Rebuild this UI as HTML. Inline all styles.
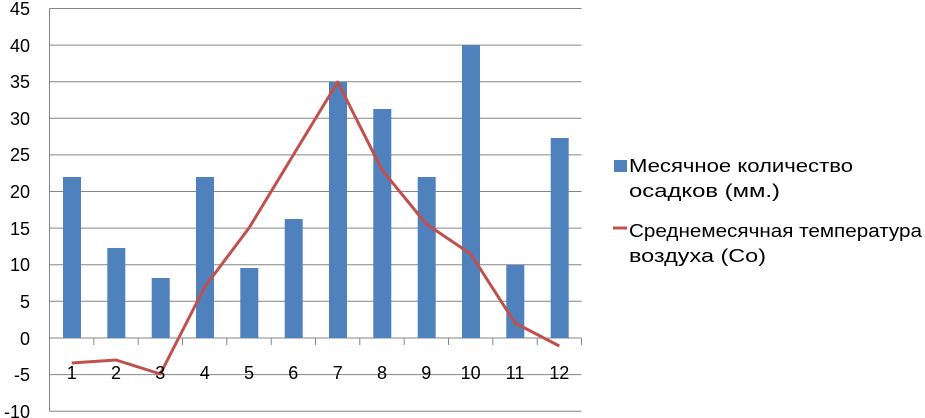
<!DOCTYPE html>
<html><head><meta charset="utf-8"><style>body{margin:0;background:#fff}svg{display:block}text{font-family:"Liberation Sans",sans-serif;font-size:18px;fill:#000}</style></head><body>
<svg width="925" height="418" xmlns="http://www.w3.org/2000/svg">
<g stroke="#868686" stroke-width="1">
<line x1="49.5" y1="8.5" x2="581.5" y2="8.5"/><line x1="49.5" y1="45.1" x2="581.5" y2="45.1"/><line x1="49.5" y1="81.7" x2="581.5" y2="81.7"/><line x1="49.5" y1="118.3" x2="581.5" y2="118.3"/><line x1="49.5" y1="154.9" x2="581.5" y2="154.9"/><line x1="49.5" y1="191.5" x2="581.5" y2="191.5"/><line x1="49.5" y1="228.1" x2="581.5" y2="228.1"/><line x1="49.5" y1="264.7" x2="581.5" y2="264.7"/><line x1="49.5" y1="301.3" x2="581.5" y2="301.3"/><line x1="49.5" y1="338" x2="581.5" y2="338"/><line x1="49.5" y1="374.6" x2="581.5" y2="374.6"/><line x1="49.5" y1="411.2" x2="581.5" y2="411.2"/>
<line x1="49.5" y1="8.5" x2="49.5" y2="411.2"/>
<line x1="93.8" y1="338" x2="93.8" y2="345"/><line x1="138.2" y1="338" x2="138.2" y2="345"/><line x1="182.5" y1="338" x2="182.5" y2="345"/><line x1="226.8" y1="338" x2="226.8" y2="345"/><line x1="271.2" y1="338" x2="271.2" y2="345"/><line x1="315.5" y1="338" x2="315.5" y2="345"/><line x1="359.8" y1="338" x2="359.8" y2="345"/><line x1="404.2" y1="338" x2="404.2" y2="345"/><line x1="448.5" y1="338" x2="448.5" y2="345"/><line x1="492.8" y1="338" x2="492.8" y2="345"/><line x1="537.2" y1="338" x2="537.2" y2="345"/><line x1="581.5" y1="338" x2="581.5" y2="345"/>
</g>
<g fill="#4F81BD">
<rect x="63" y="177" width="18" height="161"/>
<rect x="107.3" y="248" width="18" height="90"/>
<rect x="151.7" y="278" width="18" height="60"/>
<rect x="196" y="177" width="18" height="161"/>
<rect x="240.3" y="268" width="18" height="70"/>
<rect x="284.7" y="219" width="18" height="119"/>
<rect x="329" y="81.7" width="18" height="256.3"/>
<rect x="373.3" y="109" width="18" height="229"/>
<rect x="417.7" y="177" width="18" height="161"/>
<rect x="462" y="45.1" width="18" height="292.9"/>
<rect x="506.3" y="265" width="18" height="73"/>
<rect x="550.7" y="138" width="18" height="200"/>
</g>
<polyline fill="none" stroke="#C0504D" stroke-width="3" stroke-linejoin="round" points="71.7,363 116,360 160.3,374 204.7,287 249,228 293.3,155 337.7,82 382,170 426.3,224 470.7,254 515,323 559.3,346"/>
<g text-anchor="end">
<text x="30" y="15">45</text><text x="30" y="52">40</text><text x="30" y="88">35</text><text x="30" y="125">30</text><text x="30" y="161">25</text><text x="30" y="198">20</text><text x="30" y="235">15</text><text x="30" y="271">10</text><text x="30" y="308">5</text><text x="30" y="345">0</text><text x="30" y="381">-5</text><text x="30" y="418">-10</text>
</g>
<g text-anchor="middle">
<text x="71.7" y="379">1</text><text x="116" y="379">2</text><text x="160.3" y="379">3</text><text x="204.7" y="379">4</text><text x="249" y="379">5</text><text x="293.3" y="379">6</text><text x="337.7" y="379">7</text><text x="382" y="379">8</text><text x="426.3" y="379">9</text><text x="470.7" y="379">10</text><text x="515" y="379">11</text><text x="559.3" y="379">12</text>
</g>
<rect x="614" y="160" width="13" height="12" fill="#4F81BD"/>
<line x1="613" y1="228" x2="627" y2="228" stroke="#C0504D" stroke-width="3"/>
<text x="629" y="172" textLength="224" lengthAdjust="spacingAndGlyphs">Месячное количество</text>
<text x="629" y="197" textLength="151" lengthAdjust="spacingAndGlyphs">осадков (мм.)</text>
<text x="629" y="237" textLength="293" lengthAdjust="spacingAndGlyphs">Среднемесячная температура</text>
<text x="629" y="262" textLength="137" lengthAdjust="spacingAndGlyphs">воздуха (Со)</text>
</svg>
</body></html>
